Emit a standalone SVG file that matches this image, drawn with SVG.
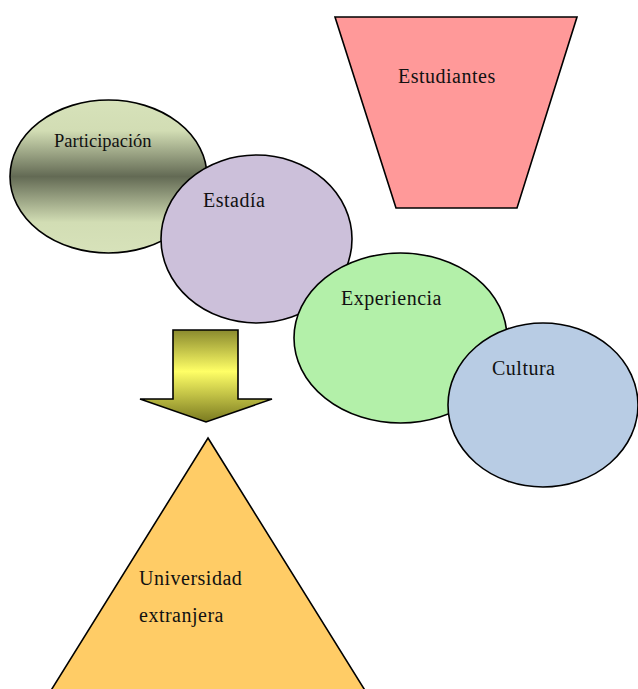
<svg xmlns="http://www.w3.org/2000/svg" width="638" height="689" viewBox="0 0 638 689">
<defs>
<linearGradient id="gPart" x1="0" y1="0" x2="0" y2="1">
<stop offset="0" stop-color="#d7e2ba"/>
<stop offset="0.2" stop-color="#d2ddb4"/>
<stop offset="0.5" stop-color="#636a54"/>
<stop offset="0.8" stop-color="#d2ddb4"/>
<stop offset="1" stop-color="#d7e2ba"/>
</linearGradient>
<linearGradient id="gArrow" x1="0" y1="0" x2="0" y2="1">
<stop offset="0" stop-color="#8a8a2e"/>
<stop offset="0.45" stop-color="#ffff66"/>
<stop offset="1" stop-color="#7a7a20"/>
</linearGradient>
<style>
.shape{stroke:#000;stroke-width:1.6}
.lbl{font-family:"Liberation Serif","Times New Roman",serif;font-size:20px;letter-spacing:0.5px;fill:#111}
</style>
</defs>
<g id="estudiantes">
<polygon class="shape" points="335,17 577,17 517,208 396,208" fill="#ff9999"/>
<text class="lbl" x="398" y="83">Estudiantes</text>
</g>
<g id="participacion">
<ellipse class="shape" cx="108.5" cy="176.5" rx="98.5" ry="76.5" fill="url(#gPart)"/>
<text class="lbl" x="54" y="147" style="font-size:18.5px;letter-spacing:0">Participación</text>
</g>
<g id="estadia">
<ellipse class="shape" cx="256.5" cy="239" rx="95.5" ry="84" fill="#ccc0da"/>
<text class="lbl" x="203" y="207">Estadía</text>
</g>
<g id="experiencia">
<ellipse class="shape" cx="400.5" cy="338" rx="106.5" ry="85" fill="#b3f0a9"/>
<text class="lbl" x="341" y="305">Experiencia</text>
</g>
<g id="cultura">
<ellipse class="shape" cx="543" cy="405" rx="95" ry="82" fill="#b8cce4"/>
<text class="lbl" x="492" y="375">Cultura</text>
</g>
<g id="connectors">
<polygon class="shape" points="173,330 238,330 238,399 272,399 206,422 140,399 173,399" fill="url(#gArrow)"/>
</g>
<g id="universidad">
<polygon class="shape" points="208,438 366,692 50,692" fill="#ffcc66"/>
<text class="lbl" x="139" y="585">Universidad</text>
<text class="lbl" x="139" y="622">extranjera</text>
</g>
</svg>
